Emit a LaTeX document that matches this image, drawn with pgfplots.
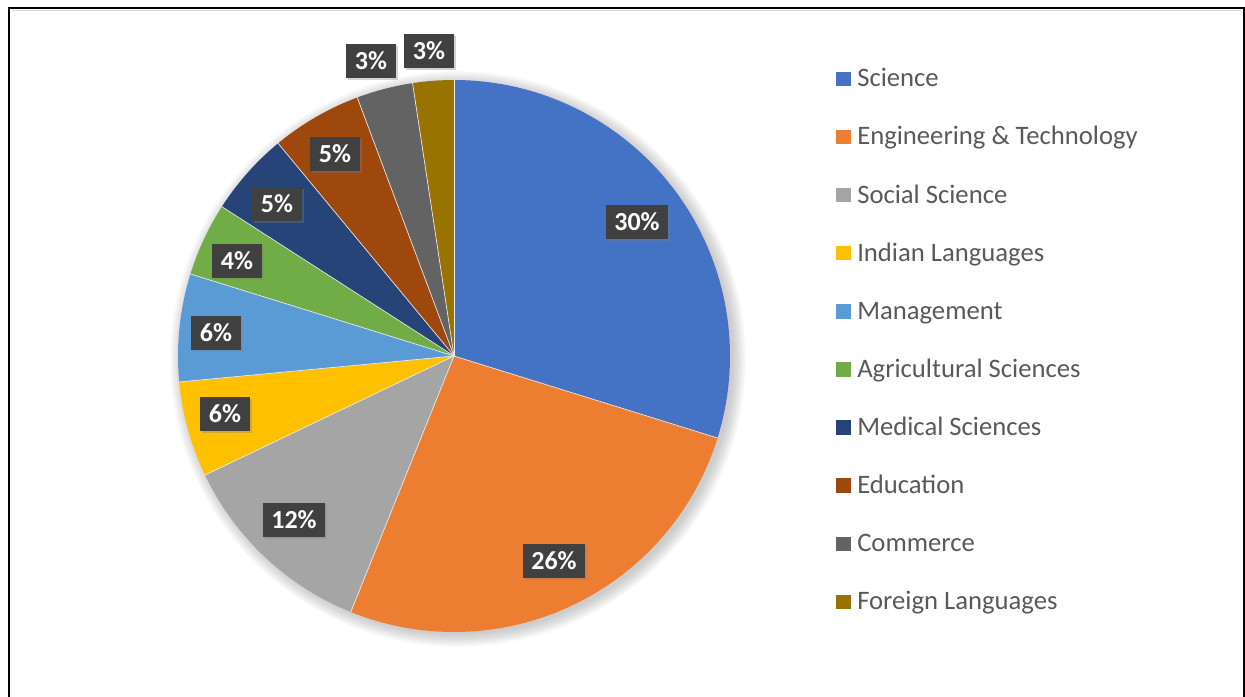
\documentclass[border=0pt]{standalone}
\usepackage{pgfplots}
\pgfplotsset{compat=1.18}
\usepackage{pgfplotstable}
\usepackage{fontspec}
\setmainfont{Carlito}
\usetikzlibrary{shadows}

\definecolor{cSci}{HTML}{4472C4}
\definecolor{cEng}{HTML}{ED7D31}
\definecolor{cSoc}{HTML}{A5A5A5}
\definecolor{cInd}{HTML}{FFC000}
\definecolor{cMan}{HTML}{5B9BD5}
\definecolor{cAgr}{HTML}{70AD47}
\definecolor{cMed}{HTML}{264478}
\definecolor{cEdu}{HTML}{9E480E}
\definecolor{cCom}{HTML}{636363}
\definecolor{cFor}{HTML}{997300}
\definecolor{labbg}{HTML}{404040}
\definecolor{legtext}{HTML}{595959}

% value = share of the pie (%), label = printed percentage, lx/ly = label centre (pixels)
\pgfplotstableread[col sep=comma]{
name,value,label,color,lx,ly
Science,29.8,30,cSci,637,222
Engineering \& Technology,26.3,26,cEng,554,561
Social Science,11.8,12,cSoc,294,520
Indian Languages,5.6,6,cInd,225,414
Management,6.3,6,cMan,216,333
Agricultural Sciences,4.3,4,cAgr,237,261
Medical Sciences,4.9,5,cMed,277,204
Education,5.3,5,cEdu,335,154
Commerce,3.3,3,cCom,371,61
Foreign Languages,2.4,3,cFor,429,51
}\piedata

\begin{document}
\begin{tikzpicture}
\useasboundingbox (0,0) rectangle (933.75pt,522pt);
\begin{axis}[at={(0,0)}, anchor=south west,
  x=0.75pt, y=0.75pt, xmin=0, xmax=1245, ymin=0, ymax=696,
  y dir=reverse, hide axis, scale only axis, clip=false]
\pgfplotsextra{
  % frame
  \draw[black, line width=1.5pt] (axis cs:9,7.5) rectangle (axis cs:1243.5,720);
  \draw[black!15, line width=0.6pt] (axis cs:11.5,10) -- (axis cs:1241,10);
  % soft shadow of the pie
  \foreach \k in {1,...,14} {
    \node[circle, fill=black, opacity=0.016, draw=none, inner sep=0pt,
      minimum size={2*(274+\k)*0.75pt}] at (axis cs:458,359) {};
  }
  \xdef\cum{90}
  \foreach \i in {0,...,9} {
    \pgfplotstablegetelem{\i}{value}\of\piedata \let\v\pgfplotsretval
    \pgfplotstablegetelem{\i}{color}\of\piedata \let\slicecol\pgfplotsretval
    \pgfmathsetmacro\a{\cum}
    \pgfmathsetmacro\b{\cum-3.6*\v}
    \pgfmathsetmacro\aa{\a-0.5}
    \fill[fill=\slicecol] (axis cs:454,356)
      \foreach \t in {\a,\aa,...,\b} { -- (axis cs:{454+276*cos(\t)},{356-276*sin(\t)}) }
      -- (axis cs:{454+276*cos(\b)},{356-276*sin(\b)}) -- cycle;
    \xdef\cum{\b}
  }
  \xdef\cum{90}
  \foreach \i in {0,...,9} {
    \pgfplotstablegetelem{\i}{value}\of\piedata \let\v\pgfplotsretval
    \pgfmathsetmacro\b{\cum-3.6*\v}
    \draw[white!85!gray, line width=0.5pt] (axis cs:454,356) -- (axis cs:{454+276*cos(\b)},{356-276*sin(\b)});
    \xdef\cum{\b}
  }
  % labels
  \foreach \i in {0,...,9} {
    \pgfplotstablegetelem{\i}{label}\of\piedata \let\lab\pgfplotsretval
    \pgfplotstablegetelem{\i}{lx}\of\piedata \let\lx\pgfplotsretval
    \pgfplotstablegetelem{\i}{ly}\of\piedata \let\ly\pgfplotsretval
    \node[fill=labbg, text=white, font=\fontsize{19.5}{23}\selectfont\bfseries,
      inner xsep=6.5pt, inner ysep=0pt, minimum height=26pt,
      drop shadow={shadow xshift=1.5pt, shadow yshift=-1.5pt, opacity=0.35}]
      at (axis cs:\lx,\ly) {\lab\%};
  }
  % legend
  \foreach \i in {0,...,9} {
    \pgfplotstablegetelem{\i}{name}\of\piedata \let\nm\pgfplotsretval
    \pgfplotstablegetelem{\i}{color}\of\piedata \let\slicecol\pgfplotsretval
    \pgfmathsetmacro\ly{78.8+58.13*\i}
    \fill[fill=\slicecol] (axis cs:836,{\ly-7.3}) rectangle (axis cs:851,{\ly+7.3});
    \node[anchor=base west, inner sep=0pt, text=legtext, font=\fontsize{20}{24}\selectfont]
      at (axis cs:857,{\ly+8}) {\nm};
  }
}
\end{axis}
\end{tikzpicture}
\end{document}
